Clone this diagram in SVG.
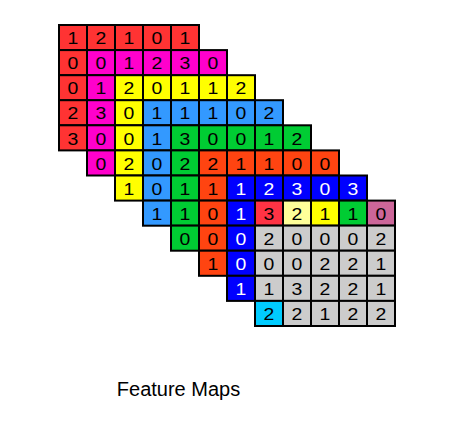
<svg xmlns="http://www.w3.org/2000/svg" width="465" height="441" viewBox="0 0 465 441">
<style>
rect{stroke:#000;stroke-width:2;height:25.1px;width:28px}
text{font-family:"Liberation Sans",Arial,sans-serif;font-size:16.5px;text-anchor:middle;fill:#000}
text.w{fill:#fff}
.red{fill:#ff3333}.mag{fill:#ff00cc}.yel{fill:#ffff00}.lb{fill:#3399ff}.grn{fill:#00cc33}
.org{fill:#ff4411}.db{fill:#0000ff}.gry{fill:#cccccc}.cyn{fill:#00ccff}.pnk{fill:#cc6699}.pyl{fill:#ffff99}.rd2{fill:#ff3344}
</style>
<rect width="465" height="441" x="0" y="0" style="fill:#fff;stroke:none;width:465px;height:441px"/>
<g id="row0" transform="translate(0,25)">
<rect x="59" y="0" class="red"/><text x="73" y="19.3" textLength="10.8" lengthAdjust="spacingAndGlyphs">1</text>
<rect x="87" y="0" class="red"/><text x="101" y="19.3" textLength="10.8" lengthAdjust="spacingAndGlyphs">2</text>
<rect x="115" y="0" class="red"/><text x="129" y="19.3" textLength="10.8" lengthAdjust="spacingAndGlyphs">1</text>
<rect x="143" y="0" class="red"/><text x="157" y="19.3" textLength="10.8" lengthAdjust="spacingAndGlyphs">0</text>
<rect x="171" y="0" class="red"/><text x="185" y="19.3" textLength="10.8" lengthAdjust="spacingAndGlyphs">1</text>
</g>
<g id="row1" transform="translate(0,50.1)">
<rect x="59" y="0" class="red"/><text x="73" y="19.3" textLength="10.8" lengthAdjust="spacingAndGlyphs">0</text>
<rect x="87" y="0" class="mag"/><text x="101" y="19.3" textLength="10.8" lengthAdjust="spacingAndGlyphs">0</text>
<rect x="115" y="0" class="mag"/><text x="129" y="19.3" textLength="10.8" lengthAdjust="spacingAndGlyphs">1</text>
<rect x="143" y="0" class="mag"/><text x="157" y="19.3" textLength="10.8" lengthAdjust="spacingAndGlyphs">2</text>
<rect x="171" y="0" class="mag"/><text x="185" y="19.3" textLength="10.8" lengthAdjust="spacingAndGlyphs">3</text>
<rect x="199" y="0" class="mag"/><text x="213" y="19.3" textLength="10.8" lengthAdjust="spacingAndGlyphs">0</text>
</g>
<g id="row2" transform="translate(0,75.2)">
<rect x="59" y="0" class="red"/><text x="73" y="19.3" textLength="10.8" lengthAdjust="spacingAndGlyphs">0</text>
<rect x="87" y="0" class="mag"/><text x="101" y="19.3" textLength="10.8" lengthAdjust="spacingAndGlyphs">1</text>
<rect x="115" y="0" class="yel"/><text x="129" y="19.3" textLength="10.8" lengthAdjust="spacingAndGlyphs">2</text>
<rect x="143" y="0" class="yel"/><text x="157" y="19.3" textLength="10.8" lengthAdjust="spacingAndGlyphs">0</text>
<rect x="171" y="0" class="yel"/><text x="185" y="19.3" textLength="10.8" lengthAdjust="spacingAndGlyphs">1</text>
<rect x="199" y="0" class="yel"/><text x="213" y="19.3" textLength="10.8" lengthAdjust="spacingAndGlyphs">1</text>
<rect x="227" y="0" class="yel"/><text x="241" y="19.3" textLength="10.8" lengthAdjust="spacingAndGlyphs">2</text>
</g>
<g id="row3" transform="translate(0,100.2)">
<rect x="59" y="0" class="red"/><text x="73" y="19.3" textLength="10.8" lengthAdjust="spacingAndGlyphs">2</text>
<rect x="87" y="0" class="mag"/><text x="101" y="19.3" textLength="10.8" lengthAdjust="spacingAndGlyphs">3</text>
<rect x="115" y="0" class="yel"/><text x="129" y="19.3" textLength="10.8" lengthAdjust="spacingAndGlyphs">0</text>
<rect x="143" y="0" class="lb"/><text x="157" y="19.3" textLength="10.8" lengthAdjust="spacingAndGlyphs">1</text>
<rect x="171" y="0" class="lb"/><text x="185" y="19.3" textLength="10.8" lengthAdjust="spacingAndGlyphs">1</text>
<rect x="199" y="0" class="lb"/><text x="213" y="19.3" textLength="10.8" lengthAdjust="spacingAndGlyphs">1</text>
<rect x="227" y="0" class="lb"/><text x="241" y="19.3" textLength="10.8" lengthAdjust="spacingAndGlyphs">0</text>
<rect x="255" y="0" class="lb"/><text x="269" y="19.3" textLength="10.8" lengthAdjust="spacingAndGlyphs">2</text>
</g>
<g id="row4" transform="translate(0,125.3)">
<rect x="59" y="0" class="red"/><text x="73" y="19.3" textLength="10.8" lengthAdjust="spacingAndGlyphs">3</text>
<rect x="87" y="0" class="mag"/><text x="101" y="19.3" textLength="10.8" lengthAdjust="spacingAndGlyphs">0</text>
<rect x="115" y="0" class="yel"/><text x="129" y="19.3" textLength="10.8" lengthAdjust="spacingAndGlyphs">0</text>
<rect x="143" y="0" class="lb"/><text x="157" y="19.3" textLength="10.8" lengthAdjust="spacingAndGlyphs">1</text>
<rect x="171" y="0" class="grn"/><text x="185" y="19.3" textLength="10.8" lengthAdjust="spacingAndGlyphs">3</text>
<rect x="199" y="0" class="grn"/><text x="213" y="19.3" textLength="10.8" lengthAdjust="spacingAndGlyphs">0</text>
<rect x="227" y="0" class="grn"/><text x="241" y="19.3" textLength="10.8" lengthAdjust="spacingAndGlyphs">0</text>
<rect x="255" y="0" class="grn"/><text x="269" y="19.3" textLength="10.8" lengthAdjust="spacingAndGlyphs">1</text>
<rect x="283" y="0" class="grn"/><text x="297" y="19.3" textLength="10.8" lengthAdjust="spacingAndGlyphs">2</text>
</g>
<g id="row5" transform="translate(0,150.4)">
<rect x="87" y="0" class="mag"/><text x="101" y="19.3" textLength="10.8" lengthAdjust="spacingAndGlyphs">0</text>
<rect x="115" y="0" class="yel"/><text x="129" y="19.3" textLength="10.8" lengthAdjust="spacingAndGlyphs">2</text>
<rect x="143" y="0" class="lb"/><text x="157" y="19.3" textLength="10.8" lengthAdjust="spacingAndGlyphs">0</text>
<rect x="171" y="0" class="grn"/><text x="185" y="19.3" textLength="10.8" lengthAdjust="spacingAndGlyphs">2</text>
<rect x="199" y="0" class="org"/><text x="213" y="19.3" textLength="10.8" lengthAdjust="spacingAndGlyphs">2</text>
<rect x="227" y="0" class="org"/><text x="241" y="19.3" textLength="10.8" lengthAdjust="spacingAndGlyphs">1</text>
<rect x="255" y="0" class="org"/><text x="269" y="19.3" textLength="10.8" lengthAdjust="spacingAndGlyphs">1</text>
<rect x="283" y="0" class="org"/><text x="297" y="19.3" textLength="10.8" lengthAdjust="spacingAndGlyphs">0</text>
<rect x="311" y="0" class="org"/><text x="325" y="19.3" textLength="10.8" lengthAdjust="spacingAndGlyphs">0</text>
</g>
<g id="row6" transform="translate(0,175.5)">
<rect x="115" y="0" class="yel"/><text x="129" y="19.3" textLength="10.8" lengthAdjust="spacingAndGlyphs">1</text>
<rect x="143" y="0" class="lb"/><text x="157" y="19.3" textLength="10.8" lengthAdjust="spacingAndGlyphs">0</text>
<rect x="171" y="0" class="grn"/><text x="185" y="19.3" textLength="10.8" lengthAdjust="spacingAndGlyphs">1</text>
<rect x="199" y="0" class="org"/><text x="213" y="19.3" textLength="10.8" lengthAdjust="spacingAndGlyphs">1</text>
<rect x="227" y="0" class="db"/><text x="241" y="19.3" textLength="10.8" lengthAdjust="spacingAndGlyphs" class="w">1</text>
<rect x="255" y="0" class="db"/><text x="269" y="19.3" textLength="10.8" lengthAdjust="spacingAndGlyphs" class="w">2</text>
<rect x="283" y="0" class="db"/><text x="297" y="19.3" textLength="10.8" lengthAdjust="spacingAndGlyphs" class="w">3</text>
<rect x="311" y="0" class="db"/><text x="325" y="19.3" textLength="10.8" lengthAdjust="spacingAndGlyphs" class="w">0</text>
<rect x="339" y="0" class="db"/><text x="353" y="19.3" textLength="10.8" lengthAdjust="spacingAndGlyphs" class="w">3</text>
</g>
<g id="row7" transform="translate(0,200.6)">
<rect x="143" y="0" class="lb"/><text x="157" y="19.3" textLength="10.8" lengthAdjust="spacingAndGlyphs">1</text>
<rect x="171" y="0" class="grn"/><text x="185" y="19.3" textLength="10.8" lengthAdjust="spacingAndGlyphs">1</text>
<rect x="199" y="0" class="org"/><text x="213" y="19.3" textLength="10.8" lengthAdjust="spacingAndGlyphs">0</text>
<rect x="227" y="0" class="db"/><text x="241" y="19.3" textLength="10.8" lengthAdjust="spacingAndGlyphs" class="w">1</text>
<rect x="255" y="0" class="rd2"/><text x="269" y="19.3" textLength="10.8" lengthAdjust="spacingAndGlyphs">3</text>
<rect x="283" y="0" class="pyl"/><text x="297" y="19.3" textLength="10.8" lengthAdjust="spacingAndGlyphs">2</text>
<rect x="311" y="0" class="yel"/><text x="325" y="19.3" textLength="10.8" lengthAdjust="spacingAndGlyphs">1</text>
<rect x="339" y="0" class="grn"/><text x="353" y="19.3" textLength="10.8" lengthAdjust="spacingAndGlyphs">1</text>
<rect x="367" y="0" class="pnk"/><text x="381" y="19.3" textLength="10.8" lengthAdjust="spacingAndGlyphs">0</text>
</g>
<g id="row8" transform="translate(0,225.6)">
<rect x="171" y="0" class="grn"/><text x="185" y="19.3" textLength="10.8" lengthAdjust="spacingAndGlyphs">0</text>
<rect x="199" y="0" class="org"/><text x="213" y="19.3" textLength="10.8" lengthAdjust="spacingAndGlyphs">0</text>
<rect x="227" y="0" class="db"/><text x="241" y="19.3" textLength="10.8" lengthAdjust="spacingAndGlyphs" class="w">0</text>
<rect x="255" y="0" class="gry"/><text x="269" y="19.3" textLength="10.8" lengthAdjust="spacingAndGlyphs">2</text>
<rect x="283" y="0" class="gry"/><text x="297" y="19.3" textLength="10.8" lengthAdjust="spacingAndGlyphs">0</text>
<rect x="311" y="0" class="gry"/><text x="325" y="19.3" textLength="10.8" lengthAdjust="spacingAndGlyphs">0</text>
<rect x="339" y="0" class="gry"/><text x="353" y="19.3" textLength="10.8" lengthAdjust="spacingAndGlyphs">0</text>
<rect x="367" y="0" class="gry"/><text x="381" y="19.3" textLength="10.8" lengthAdjust="spacingAndGlyphs">2</text>
</g>
<g id="row9" transform="translate(0,250.7)">
<rect x="199" y="0" class="org"/><text x="213" y="19.3" textLength="10.8" lengthAdjust="spacingAndGlyphs">1</text>
<rect x="227" y="0" class="db"/><text x="241" y="19.3" textLength="10.8" lengthAdjust="spacingAndGlyphs" class="w">0</text>
<rect x="255" y="0" class="gry"/><text x="269" y="19.3" textLength="10.8" lengthAdjust="spacingAndGlyphs">0</text>
<rect x="283" y="0" class="gry"/><text x="297" y="19.3" textLength="10.8" lengthAdjust="spacingAndGlyphs">0</text>
<rect x="311" y="0" class="gry"/><text x="325" y="19.3" textLength="10.8" lengthAdjust="spacingAndGlyphs">2</text>
<rect x="339" y="0" class="gry"/><text x="353" y="19.3" textLength="10.8" lengthAdjust="spacingAndGlyphs">2</text>
<rect x="367" y="0" class="gry"/><text x="381" y="19.3" textLength="10.8" lengthAdjust="spacingAndGlyphs">1</text>
</g>
<g id="row10" transform="translate(0,275.8)">
<rect x="227" y="0" class="db"/><text x="241" y="19.3" textLength="10.8" lengthAdjust="spacingAndGlyphs" class="w">1</text>
<rect x="255" y="0" class="gry"/><text x="269" y="19.3" textLength="10.8" lengthAdjust="spacingAndGlyphs">1</text>
<rect x="283" y="0" class="gry"/><text x="297" y="19.3" textLength="10.8" lengthAdjust="spacingAndGlyphs">3</text>
<rect x="311" y="0" class="gry"/><text x="325" y="19.3" textLength="10.8" lengthAdjust="spacingAndGlyphs">2</text>
<rect x="339" y="0" class="gry"/><text x="353" y="19.3" textLength="10.8" lengthAdjust="spacingAndGlyphs">2</text>
<rect x="367" y="0" class="gry"/><text x="381" y="19.3" textLength="10.8" lengthAdjust="spacingAndGlyphs">1</text>
</g>
<g id="row11" transform="translate(0,300.9)">
<rect x="255" y="0" class="cyn"/><text x="269" y="19.3" textLength="10.8" lengthAdjust="spacingAndGlyphs">2</text>
<rect x="283" y="0" class="gry"/><text x="297" y="19.3" textLength="10.8" lengthAdjust="spacingAndGlyphs">2</text>
<rect x="311" y="0" class="gry"/><text x="325" y="19.3" textLength="10.8" lengthAdjust="spacingAndGlyphs">1</text>
<rect x="339" y="0" class="gry"/><text x="353" y="19.3" textLength="10.8" lengthAdjust="spacingAndGlyphs">2</text>
<rect x="367" y="0" class="gry"/><text x="381" y="19.3" textLength="10.8" lengthAdjust="spacingAndGlyphs">2</text>
</g>
<g id="connectors"/>
<text id="title" x="178.5" y="396" style="font-size:20px">Feature Maps</text>
</svg>
